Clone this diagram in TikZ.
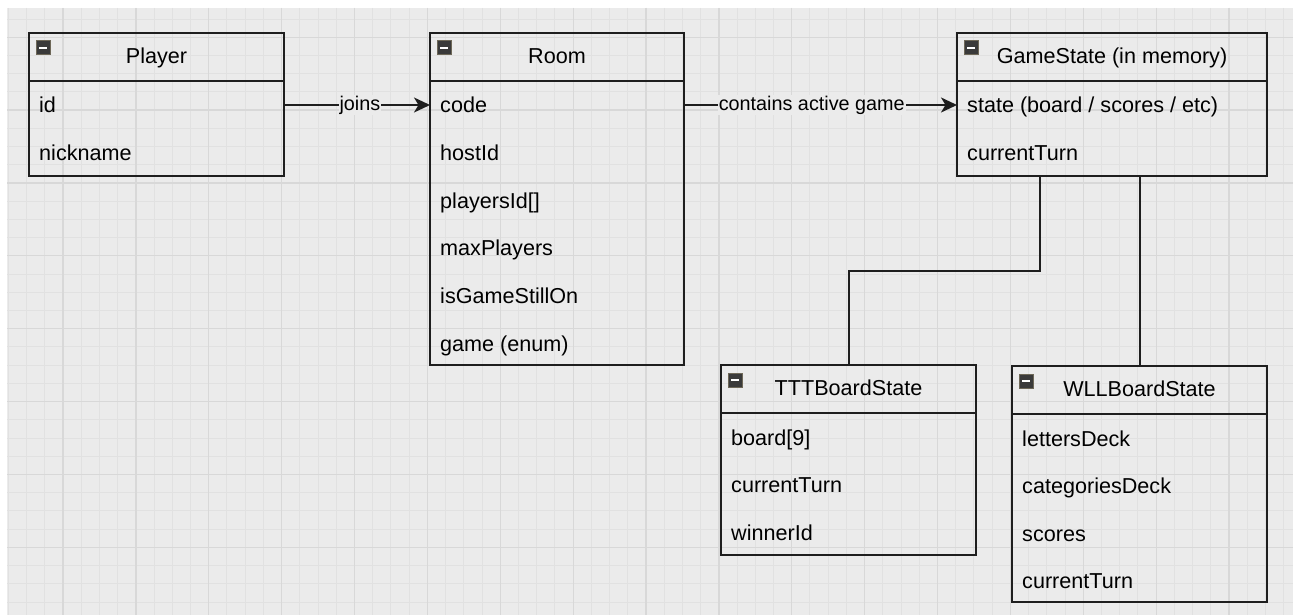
\documentclass[tikz,border=0pt]{standalone}
\usepackage{fontspec}
\setmainfont{Liberation Sans}
\usetikzlibrary{arrows.meta}
\definecolor{bg}{HTML}{EBEBEB}
\definecolor{gridminor}{HTML}{E1E1E1}
\definecolor{gridmajor}{HTML}{D8D8D8}
\definecolor{boxc}{HTML}{1E1E1E}
\definecolor{iconf}{HTML}{3A3A3A}
\definecolor{iconb}{HTML}{6E6858}
\newcommand\rowfnt{\fontsize{21.6}{26}\selectfont}
\newcommand\lblfnt{\fontsize{19.8}{24}\selectfont}
\tikzset{
  classbox/.style={draw=boxc, line width=2pt, inner sep=0pt, outer sep=0pt, anchor=north west},
  sepline/.style={draw=boxc, line width=2pt},
  titletxt/.style={font=\rowfnt, text=black, inner sep=0pt, anchor=base},
  rowtxt/.style={font=\rowfnt, text=black, inner sep=0pt, anchor=base west},
  iconbox/.style={draw=iconb, fill=iconf, line width=1pt, minimum size=14pt, inner sep=0pt, outer sep=0pt, anchor=north west,
    path picture={\fill[white] ([xshift=3pt,yshift=-1.3pt]path picture bounding box.west) rectangle ([xshift=-3pt,yshift=1.3pt]path picture bounding box.east);}},
  conn/.style={draw=boxc, line width=2pt},
  arr/.style={conn, -{Stealth[length=16pt,width=15pt,inset=4.5pt]}},
  lbl/.style={font=\lblfnt, text=black, fill=bg, inner sep=1pt}
}
\begin{document}
\begin{tikzpicture}[x=1pt,y=-1pt]
\useasboundingbox (0,0) rectangle (1295,615);
\fill[white] (0,0) rectangle (1295,615);
\fill[bg] (7,8) rectangle (1293,615);
\begin{scope}
\clip (7,8) rectangle (1293,615);
\foreach \j in {0,...,70}{\draw[gridminor, line width=1pt] ({8.3+18.22*\j},8) -- ({8.3+18.22*\j},615);}
\foreach \k in {1,...,33}{\draw[gridminor, line width=1pt] (7,{0.8+18.22*\k}) -- (1293,{0.8+18.22*\k});}
\foreach \m in {0,...,16}{\draw[gridmajor, line width=1.3pt] ({63+72.88*\m},8) -- ({63+72.88*\m},615);}
\foreach \m in {0,...,7}{\draw[gridmajor, line width=1.3pt] (7,{37.2+72.88*\m}) -- (1293,{37.2+72.88*\m});}
\end{scope}

% Player
\node[classbox, minimum width=255pt, minimum height=143pt] (player) at (29,33) {};
\draw[sepline] ([yshift=-48pt]player.north west) -- ([yshift=-48pt]player.north east);
\node[iconbox] (playerI) at ([xshift=7pt,yshift=-8pt]player.north west) {};
\node[titletxt] (playerT) at ([yshift=-30.5pt]player.north) {Player};
\node[rowtxt] (playerR1) at ([xshift=10pt,yshift=-80pt]player.north west) {id};
\node[rowtxt] (playerR2) at ([xshift=10pt,yshift=-127.6pt]player.north west) {nickname};

% Room
\node[classbox, minimum width=254pt, minimum height=332pt] (room) at (430,33) {};
\draw[sepline] ([yshift=-48pt]room.north west) -- ([yshift=-48pt]room.north east);
\node[iconbox] (roomI) at ([xshift=7pt,yshift=-8pt]room.north west) {};
\node[titletxt] (roomT) at ([yshift=-30.5pt]room.north) {Room};
\node[rowtxt] (roomR1) at ([xshift=10pt,yshift=-80pt]room.north west) {code};
\node[rowtxt] (roomR2) at ([xshift=10pt,yshift=-127.6pt]room.north west) {hostId};
\node[rowtxt] (roomR3) at ([xshift=10pt,yshift=-175.2pt]room.north west) {playersId[]};
\node[rowtxt] (roomR4) at ([xshift=10pt,yshift=-222.8pt]room.north west) {maxPlayers};
\node[rowtxt] (roomR5) at ([xshift=10pt,yshift=-270.4pt]room.north west) {isGameStillOn};
\node[rowtxt] (roomR6) at ([xshift=10pt,yshift=-318pt]room.north west) {game (enum)};

% GameState
\node[classbox, minimum width=310pt, minimum height=143pt] (game) at (957,33) {};
\draw[sepline] ([yshift=-48pt]game.north west) -- ([yshift=-48pt]game.north east);
\node[iconbox] (gameI) at ([xshift=7pt,yshift=-8pt]game.north west) {};
\node[titletxt] (gameT) at ([yshift=-30.5pt]game.north) {GameState (in memory)};
\node[rowtxt] (gameR1) at ([xshift=10pt,yshift=-80pt]game.north west) {state (board / scores / etc)};
\node[rowtxt] (gameR2) at ([xshift=10pt,yshift=-127.6pt]game.north west) {currentTurn};

% TTTBoardState
\node[classbox, minimum width=255pt, minimum height=190pt] (ttt) at (721,365) {};
\draw[sepline] ([yshift=-48pt]ttt.north west) -- ([yshift=-48pt]ttt.north east);
\node[iconbox] (tttI) at ([xshift=7pt,yshift=-8pt]ttt.north west) {};
\node[titletxt] (tttT) at ([yshift=-30.5pt]ttt.north) {TTTBoardState};
\node[rowtxt] (tttR1) at ([xshift=10pt,yshift=-80pt]ttt.north west) {board[9]};
\node[rowtxt] (tttR2) at ([xshift=10pt,yshift=-127.6pt]ttt.north west) {currentTurn};
\node[rowtxt] (tttR3) at ([xshift=10pt,yshift=-175.2pt]ttt.north west) {winnerId};

% WLLBoardState
\node[classbox, minimum width=255pt, minimum height=236pt] (wll) at (1012,366) {};
\draw[sepline] ([yshift=-48pt]wll.north west) -- ([yshift=-48pt]wll.north east);
\node[iconbox] (wllI) at ([xshift=7pt,yshift=-8pt]wll.north west) {};
\node[titletxt] (wllT) at ([yshift=-30.5pt]wll.north) {WLLBoardState};
\node[rowtxt] (wllR1) at ([xshift=10pt,yshift=-80pt]wll.north west) {lettersDeck};
\node[rowtxt] (wllR2) at ([xshift=10pt,yshift=-127.6pt]wll.north west) {categoriesDeck};
\node[rowtxt] (wllR3) at ([xshift=10pt,yshift=-175.2pt]wll.north west) {scores};
\node[rowtxt] (wllR4) at ([xshift=10pt,yshift=-222.8pt]wll.north west) {currentTurn};

% connectors
\coordinate (pA) at ([yshift=-72pt]player.north east);
\coordinate (rA) at ([yshift=-72pt]room.north west);
\draw[arr] (pA) -- node[lbl, pos=0.52] {joins} (rA);
\coordinate (rB) at ([yshift=-72pt]room.north east);
\coordinate (gB) at ([yshift=-72pt]game.north west);
\draw[arr] (rB) -- node[lbl, pos=0.468] {contains active game} (gB);
\coordinate (gC) at ([xshift=83pt]game.south west);
\draw[conn] (gC) -- ++(0,95) -| (ttt.north);
\draw[conn] (game.south -| wll.north) -- (wll.north);
\end{tikzpicture}
\end{document}
